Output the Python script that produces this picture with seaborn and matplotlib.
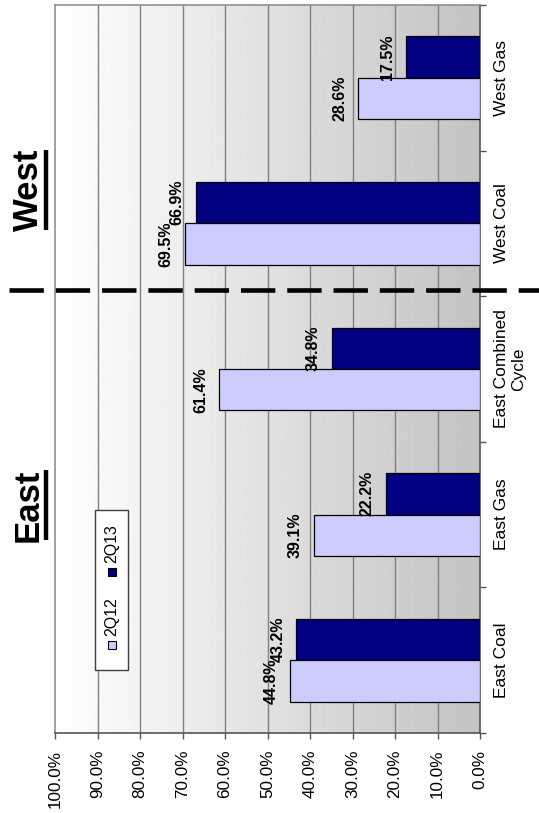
import numpy as np
import pandas as pd
import seaborn as sns
import matplotlib.pyplot as plt
from matplotlib.lines import Line2D
from matplotlib.patches import Rectangle

# Data
categories = ['East Coal', 'East Gas', 'East Combined\nCycle', 'West Coal', 'West Gas']
q12 = [44.8, 39.1, 61.4, 69.5, 28.6]
q13 = [43.2, 22.2, 34.8, 66.9, 17.5]
series = ['2Q12', '2Q13']
value_ticks = [0, 10, 20, 30, 40, 50, 60, 70, 80, 90, 100]
value_tick_labels = ['0.0%', '10.0%', '20.0%', '30.0%', '40.0%', '50.0%',
                     '60.0%', '70.0%', '80.0%', '90.0%', '100.0%']

df = pd.DataFrame({
    'Category': categories * 2,
    'Period': ['2Q12'] * len(categories) + ['2Q13'] * len(categories),
    'Value': q12 + q13,
})

sns.set_style('white')
plt.rcParams['font.family'] = ['Liberation Sans', 'DejaVu Sans']
plt.rcParams['text.color'] = 'black'
plt.rcParams['xtick.color'] = 'black'
plt.rcParams['ytick.color'] = 'black'

fig = plt.figure(figsize=(5.39, 8.13), dpi=100)
ax = fig.add_axes([55 / 539, 1 - 733 / 813, 425 / 539, 728 / 813])

# gradient background, white at 100% -> gray at 0%
grad = np.linspace(255, 195, 256)[None, :] / 255.0
ax.imshow(grad, extent=[0, 1, 0, 1], transform=ax.transAxes, aspect='auto',
          cmap='gray', vmin=0, vmax=1, zorder=0, interpolation='bilinear')

palette = {'2Q12': '#CCCCFF', '2Q13': '#000080'}
sns.barplot(data=df, x='Value', y='Category', hue='Period',
            order=categories[::-1], hue_order=['2Q13', '2Q12'],
            palette=palette, orient='h', width=0.57, saturation=1,
            edgecolor='black', linewidth=0.9, legend=False, ax=ax, zorder=3)

ax.set_xlim(100, 0)
ax.set_ylim(4.5, -0.5)

# gridlines
for v in value_ticks[1:-1]:
    ax.axvline(v, color='#808080', lw=1.0, zorder=1)

for c in ax.containers:
    ax.bar_label(c, fmt='%.1f%%', padding=8, rotation=90, fontsize=11.5,
                 fontweight='bold', color='black')

ax.set_xlabel('')
ax.set_ylabel('')
ax.set_xticks(value_ticks)
ax.set_xticklabels(value_tick_labels, rotation=90, fontsize=12.3)
ax.tick_params(axis='x', bottom=True, length=4, width=1, color='#555555',
               direction='out', pad=8)

ax.yaxis.tick_right()
ax.set_yticks(range(len(categories)))
ax.set_yticklabels(categories[::-1], rotation=90, fontsize=12.5,
                   va='center', ha='left', multialignment='center')
ax.set_yticks(np.arange(-0.5, len(categories), 1), minor=True)
ax.tick_params(axis='y', which='major', length=0, pad=10, right=True, left=False)
ax.tick_params(axis='y', which='minor', length=4.5, width=1, color='#555555',
               direction='out', right=True, left=False)

for side in ['left', 'top']:
    ax.spines[side].set_color('#909090')
    ax.spines[side].set_linewidth(1.2)
for side in ['right', 'bottom']:
    ax.spines[side].set_color('#555555')
    ax.spines[side].set_linewidth(1.2)

# East / West dashed divider
fig.add_artist(Line2D([9 / 539, 1], [1 - 290 / 813] * 2, transform=fig.transFigure,
                      color='black', lw=3.3, linestyle=(0, (7.5, 2.6)),
                      dash_capstyle='butt', zorder=10))

# region titles
titles = []
for label, ypx in [('West', 190), ('East', 505)]:
    t = fig.text(28 / 539, 1 - ypx / 813, label, rotation=90, fontsize=25,
                 fontweight='bold', ha='center', va='center')
    titles.append(t)

# manual rotated legend
fig.add_artist(Rectangle((95 / 539, 1 - 670 / 813), 33 / 539, 160 / 813,
                         transform=fig.transFigure, facecolor='white',
                         edgecolor='#404040', lw=1.0, zorder=5))
for name, ypx_m, ypx_t in [('2Q12', 645, 617), ('2Q13', 572, 544)]:
    fig.add_artist(Line2D([112 / 539], [1 - ypx_m / 813], transform=fig.transFigure,
                          marker='s', markersize=5.5, markerfacecolor=palette[name],
                          markeredgecolor='black', markeredgewidth=0.8,
                          linestyle='none', zorder=6))
    fig.text(112 / 539, 1 - ypx_t / 813, name, rotation=90, fontsize=11.5,
             ha='center', va='center', zorder=6)

# underline the region titles
fig.canvas.draw()
r = fig.canvas.get_renderer()
for t in titles:
    bb = t.get_window_extent(r)
    x = (bb.x1 + 1.5) / fig.bbox.width
    fig.add_artist(Line2D([x, x], [bb.y0 / fig.bbox.height + 0.002,
                                   bb.y1 / fig.bbox.height - 0.002],
                          transform=fig.transFigure, color='black', lw=3.2,
                          solid_capstyle='butt'))

fig.savefig('out.png', dpi=100)
